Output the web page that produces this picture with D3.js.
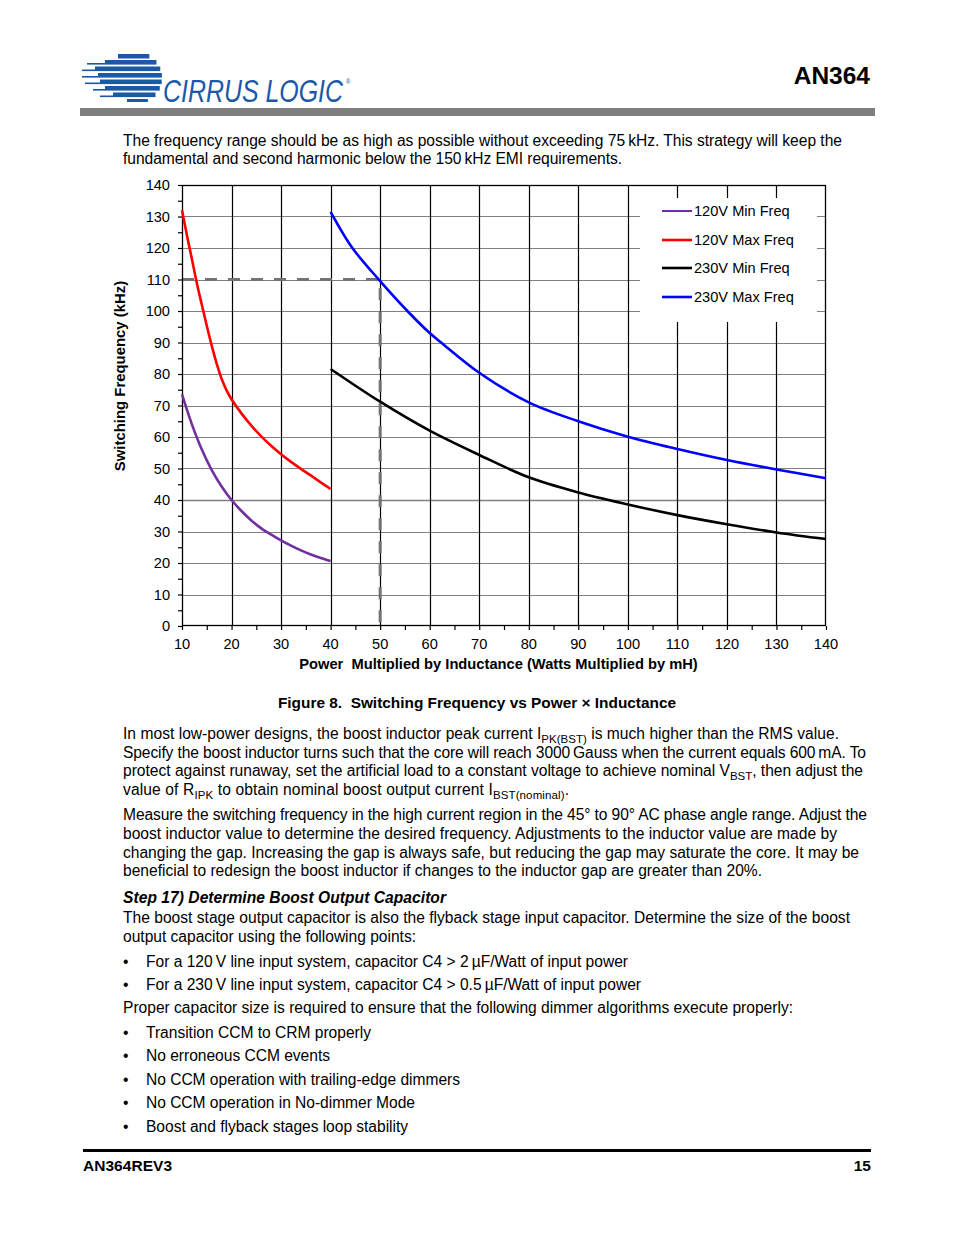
<!DOCTYPE html>
<html><head><meta charset="utf-8">
<script src="https://cdn.jsdelivr.net/npm/d3@7"></script>
<style>
html,body{margin:0;padding:0;background:#fff;}
svg{display:block;font-family:"Liberation Sans",Arial,sans-serif;}
</style></head>
<body>
<svg id="page" width="954" height="1235"></svg>
<script>
// ---------------- data ----------------
const xTicks = [10,20,30,40,50,60,70,80,90,100,110,120,130,140];
const yTicks = [0,10,20,30,40,50,60,70,80,90,100,110,120,130,140];
const seriesNames = ["120V Min Freq","120V Max Freq","230V Min Freq","230V Max Freq"];
const seriesColors = ["#7030a0","#ff0000","#000000","#0000ff"];
const min120 = [[10,73.5],[12,64],[14,56],[16,49.5],[18,44.3],[20,40],[22,36.5],[24,33.5],[26,31],[28,29],[30,27.2],[32,25.5],[34,24],[36,22.7],[38,21.6],[40,20.6]];
const max120 = [[10,132],[11,124],[12,116.5],[13,108.8],[14,102],[15,95.3],[16,89],[17,83.3],[18,78.5],[19,74.8],[20,72],[22,67.5],[24,63.6],[26,60.2],[28,57.2],[30,54.5],[32,52.1],[34,49.9],[36,47.8],[38,45.6],[40,43.5]];
const min230 = [[40,81.6],[50,71.2],[60,62],[70,54.3],[80,47.2],[90,42.4],[100,38.6],[110,35.2],[120,32.3],[130,29.7],[140,27.6]];
const max230 = [[40,131.5],[44.4,120],[50,109.5],[55.5,100],[60,93],[62.3,90],[70,80.4],[80,71],[90,65],[100,60.1],[110,56.2],[120,52.7],[130,49.7],[140,46.9]];
const seriesData = [min120, max120, min230, max230];
const guideX = [10, 50, 50];
const guideY = [110, 110, 0];

// ---------------- page ----------------
const svg = d3.select("#page");
const BLUE = "#1b58a8";

// logo: globe stripes [top, height, thickStart, tailStart]
const logo = svg.append("g");
const bands = [[54,4.5,118,118],[60,4.6,105,87],[66.5,4.6,95,82],[73,4.6,98,82],[79.5,4.6,100,85],[86,4.6,105,93],[92.5,4.6,113,100],[99,3,127,127]];
const cx = 137, cy = 78, r = 25;
bands.forEach(b => {
  const yMid = b[0] + b[1]/2;
  const dy = Math.min(Math.abs(yMid - cy), r - 1);
  const xe = cx + Math.sqrt(r*r - dy*dy);
  logo.append("rect").attr("x", b[2]).attr("y", b[0]).attr("width", xe - b[2]).attr("height", b[1]).attr("fill", BLUE);
  if (b[3] < b[2]) logo.append("rect").attr("x", b[3]).attr("y", b[0]+b[1]-1.6).attr("width", b[2]-b[3]).attr("height", 1.6).attr("fill", BLUE);
});
const logoText = logo.append("text").attr("transform","translate(163,102) scale(1,1.12)").attr("font-style","italic")
  .attr("font-family","'Liberation Sans Narrow','Liberation Sans',Arial,sans-serif")
  .attr("font-size",28.5).attr("fill",BLUE);
logoText.append("tspan").attr("textLength",180).attr("lengthAdjust","spacingAndGlyphs").text("CIRRUS LOGIC");
logoText.append("tspan").attr("x",183).attr("dy",-16).attr("font-size",6).attr("font-style","normal").text("®");

svg.append("text").attr("x",870).attr("y",84).attr("text-anchor","end").attr("font-weight","bold").attr("font-size",24.5).text("AN364");
svg.append("rect").attr("x",80).attr("y",108).attr("width",795).attr("height",8).attr("fill","#808080");

// body text helper
function line(y, parts, opts) {
  opts = opts || {};
  const x0 = opts.x || 123;
  const t = svg.append("text").attr("x", x0).attr("y", y + 6).attr("font-size", opts.size || 15.6);
  if (opts.weight) t.attr("font-weight", opts.weight);
  if (opts.style) t.attr("font-style", opts.style);
  if (opts.anchor) t.attr("text-anchor", opts.anchor);
  parts.forEach(p => {
    if (typeof p === "string") t.append("tspan").text(p);
    else {
      t.append("tspan").attr("font-size", 11.5).attr("dy", 4).text(p.sub);
      if (p.after) t.append("tspan").attr("dy", -4).text(p.after);
    }
  });
  if (opts.end) t.attr("textLength", opts.end - x0).attr("lengthAdjust", "spacing");
  return t;
}
const ts = "\u2009";
line(140, ["The frequency range should be as high as possible without exceeding 75"+ts+"kHz. This strategy will keep the"], {end:842});
line(158, ["fundamental and second harmonic below the 150"+ts+"kHz EMI requirements."], {end:622});

line(702, ["Figure 8.\u00A0 Switching Frequency vs Power \u00D7 Inductance"], {x:477, anchor:"middle", weight:"bold", size:15.4});

line(733, ["In most low-power designs, the boost inductor peak current I", {sub:"PK(BST)", after:" is much higher than the RMS value."}], {end:839});
line(752, ["Specify the boost inductor turns such that the core will reach 3000"+ts+"Gauss when the current equals 600"+ts+"mA. To"], {end:866});
line(770, ["protect against runaway, set the artificial load to a constant voltage to achieve nominal V", {sub:"BST", after:", then adjust the"}], {end:863});
line(789, ["value of R", {sub:"IPK", after:" to obtain nominal boost output current I"}, {sub:"BST(nominal)", after:"."}], {end:569});
line(814, ["Measure the switching frequency in the high current region in the 45° to 90° AC phase angle range. Adjust the"], {end:867});
line(833, ["boost inductor value to determine the desired frequency. Adjustments to the inductor value are made by"], {end:837});
line(852, ["changing the gap. Increasing the gap is always safe, but reducing the gap may saturate the core. It may be"], {end:859});
line(870, ["beneficial to redesign the boost inductor if changes to the inductor gap are greater than 20%."], {end:762});
line(897, ["Step 17) Determine Boost Output Capacitor"], {weight:"bold", style:"italic", end:446});
line(917, ["The boost stage output capacitor is also the flyback stage input capacitor. Determine the size of the boost"], {end:850});
line(936, ["output capacitor using the following points:"], {end:416});
const bullets1 = [[961,"For a 120"+ts+"V line input system, capacitor C4 > 2"+ts+"\u00B5F/Watt of input power",628],[984,"For a 230"+ts+"V line input system, capacitor C4 > 0.5"+ts+"\u00B5F/Watt of input power",641]];
bullets1.forEach(b => { line(b[0], ["\u2022"], {x:123}); line(b[0], [b[1]], {x:146, end:b[2]}); });
line(1007, ["Proper capacitor size is required to ensure that the following dimmer algorithms execute properly:"], {end:793});
const bullets2 = [[1032,"Transition CCM to CRM properly",371],[1055,"No erroneous CCM events",330],[1079,"No CCM operation with trailing-edge dimmers",460],[1102,"No CCM operation in No-dimmer Mode",415],[1126,"Boost and flyback stages loop stability",408]];
bullets2.forEach(b => { line(b[0], ["\u2022"], {x:123}); line(b[0], [b[1]], {x:146, end:b[2]}); });

// footer
svg.append("rect").attr("x",83).attr("y",1149).attr("width",788).attr("height",3).attr("fill","#000");
svg.append("text").attr("x",83).attr("y",1171).attr("font-weight","bold").attr("font-size",15.5)
  .attr("font-family","'Liberation Sans Narrow','Liberation Sans',Arial,sans-serif").attr("textLength",89).text("AN364REV3");
svg.append("text").attr("x",871).attr("y",1171).attr("text-anchor","end").attr("font-weight","bold").attr("font-size",15.5)
  .attr("font-family","'Liberation Sans Narrow','Liberation Sans',Arial,sans-serif").text("15");

// ---------------- chart ----------------
const L = 182, R = 826, T = 185, B = 626;
const FS = 14.6;
const x = d3.scaleLinear().domain([10,140]).range([L,R]);
const y = d3.scaleLinear().domain([0,140]).range([B,T]);
const ch = svg.append("g");

// horizontal grid (gray)
ch.append("g").selectAll("line").data(yTicks.filter(v => v>0 && v<140)).join("line")
  .attr("x1",L).attr("x2",R).attr("y1",d=>Math.round(y(d))+0.5).attr("y2",d=>Math.round(y(d))+0.5)
  .attr("stroke","#808080").attr("stroke-width",d=> d===40?1.7:1.2);
// vertical grid (black)
ch.append("g").selectAll("line").data(xTicks.filter(v => v>10 && v<140)).join("line")
  .attr("y1",T).attr("y2",B).attr("x1",d=>Math.round(x(d))+0.5).attr("x2",d=>Math.round(x(d))+0.5)
  .attr("stroke","#000").attr("stroke-width",1.2);

// axes with minor ticks
const yMinor = d3.range(0,141,5);
const xMinor = d3.range(10,141,5);
ch.append("g").attr("transform",`translate(${L},0)`)
  .call(d3.axisLeft(y).tickValues(yMinor).tickSize(4))
  .call(g=>{g.select(".domain").remove(); g.selectAll("text").remove(); g.selectAll("line").attr("stroke","#000").attr("stroke-width",1.2);});
ch.append("g").attr("transform",`translate(0,${B})`)
  .call(d3.axisBottom(x).tickValues(xMinor).tickSize(4))
  .call(g=>{g.select(".domain").remove(); g.selectAll("text").remove(); g.selectAll("line").attr("stroke","#000").attr("stroke-width",1.2);});

// tick labels
ch.append("g").selectAll("text").data(yTicks).join("text")
  .attr("x",170).attr("y",d=>y(d)+5).attr("text-anchor","end").attr("font-size",FS).text(d=>d);
ch.append("g").selectAll("text").data(xTicks).join("text")
  .attr("x",d=>x(d)).attr("y",649).attr("text-anchor","middle").attr("font-size",FS).text(d=>d);

// axis titles
ch.append("text").attr("x",498.5).attr("y",669).attr("text-anchor","middle").attr("font-weight","bold").attr("font-size",14.7)
  .text("Power\u00A0 Multiplied by Inductance (Watts Multiplied by mH)");
ch.append("text").attr("transform","translate(125,376) rotate(-90)").attr("text-anchor","middle")
  .attr("font-weight","bold").attr("font-size",14.9).text("Switching Frequency (kHz)");

// legend background (covers gridlines)
ch.append("rect").attr("x",640).attr("y",198).attr("width",177).attr("height",124).attr("fill","#fff");

// guide dashed lines
ch.append("path").datum(d3.zip(guideX, guideY))
  .attr("d", d3.line().x(d=>x(d[0])).y(d=>y(d[1])))
  .attr("fill","none").attr("stroke","#737373").attr("stroke-width",3).attr("stroke-dasharray","12,11");

// plot border
ch.append("rect").attr("x",L+0.5).attr("y",T+0.5).attr("width",R-L-1).attr("height",B-T-1)
  .attr("fill","none").attr("stroke","#000").attr("stroke-width",1.3);

// series
const lineGen = d3.line().x(d=>x(d[0])).y(d=>y(d[1])).curve(d3.curveCatmullRom.alpha(0.5));
ch.append("g").selectAll("path").data(seriesData).join("path")
  .attr("d", lineGen).attr("fill","none")
  .attr("stroke",(d,i)=>seriesColors[i]).attr("stroke-width",2.6).attr("stroke-linejoin","round");

// legend
const legY = [211,240,268,297];
const leg = ch.append("g").selectAll("g").data(seriesNames).join("g");
leg.append("line").attr("x1",662).attr("x2",692).attr("y1",(d,i)=>legY[i]).attr("y2",(d,i)=>legY[i])
  .attr("stroke",(d,i)=>seriesColors[i]).attr("stroke-width",(d,i)=> i===0?2:2.6);
leg.append("text").attr("x",694).attr("y",(d,i)=>legY[i]+5).attr("font-size",FS).text(d=>d);
</script>
</body></html>
